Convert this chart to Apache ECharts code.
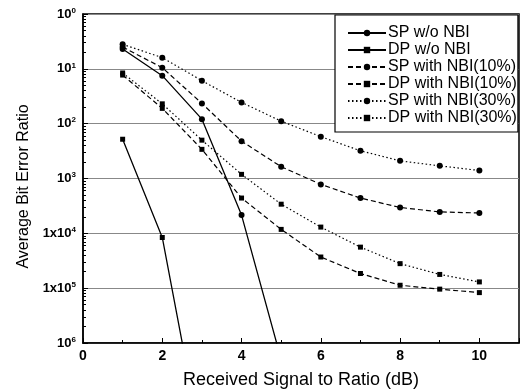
<!DOCTYPE html>
<html><head><meta charset="utf-8">
<script src="https://cdn.jsdelivr.net/npm/echarts@6/dist/echarts.min.js"></script>
<style>html,body{margin:0;padding:0;background:#fff}#c{width:524px;height:390px}</style>
</head><body><div id="c"></div>
<script>
const xs = [1,2,3,4,5,6,7,8,9,10];
const spNoNbi = [0.23, 0.075, 0.0121, 2.15e-4, 5e-7];
const dpNoNbi = [0.0052, 8.4e-5, 1.3e-8];
const sp10 = [0.25, 0.105, 0.0234, 0.0048, 0.00164, 7.8e-4, 4.4e-4, 2.96e-4, 2.46e-4, 2.35e-4];
const dp10 = [0.077, 0.019, 0.0034, 4.4e-4, 1.18e-4, 3.7e-5, 1.85e-5, 1.13e-5, 9.6e-6, 8.3e-6];
const sp30 = [0.28, 0.16, 0.0607, 0.0244, 0.0111, 0.0058, 0.0032, 0.0021, 0.0017, 0.0014];
const dp30 = [0.084, 0.023, 0.005, 1.19e-3, 3.4e-4, 1.3e-4, 5.6e-5, 2.8e-5, 1.78e-5, 1.3e-5];
const names = ['SP w/o NBI','DP w/o NBI','SP with NBI(10%)','DP with NBI(10%)','SP with NBI(30%)','DP with NBI(30%)'];
const yTickLabels = {'0':'10{s|0}','-1':'10{s|1}','-2':'10{s|2}','-3':'10{s|3}','-4':'1x10{s|4}','-5':'1x10{s|5}','-6':'10{s|6}'};

const minorLog = [];
for (let e = -6; e < 0; e++) for (let m = 2; m <= 9; m++) minorLog.push(m * Math.pow(10, e));

const pairs = a => a.map((v,i)=>[xs[i], v]);
const mk = (name, data, sym, type, size) => ({
  name, type:'line', data: pairs(data), symbol: sym, symbolSize: size,
  lineStyle:{color:'#000', width: type==='solid'?1.3:1.2, type},
  itemStyle:{color:'#000'}, clip:true, animation:false
});
const FF = 'Liberation Sans, Arial, sans-serif';
const chart = echarts.init(document.getElementById('c'));
chart.setOption({
  animation:false,
  textStyle:{fontFamily:FF},
  grid:{left:83, right:5, top:14, bottom:47, show:true, borderColor:'#000', borderWidth:1.5,
    containLabel:false, outerBoundsMode:'none'},
  legend:{
    data:names, orient:'vertical', left:335, top:15,
    backgroundColor:'#fff', borderColor:'#000', borderWidth:1.2,
    padding:[10,1,6,12], itemGap:1, itemWidth:38, itemHeight:8,
    textStyle:{fontSize:16, color:'#000', fontFamily:FF, padding:[0,0,0,-3]}
  },
  xAxis:[{type:'value', min:0, max:11, interval:2,
    name:'Received Signal to Ratio (dB)', nameLocation:'middle', nameGap:28,
    nameTextStyle:{fontSize:18, color:'#000', fontFamily:FF},
    axisLine:{show:true, lineStyle:{color:'#000', width:1.5}},
    axisTick:{inside:true, length:5, lineStyle:{color:'#000'}},
    minorTick:{show:true, splitNumber:2, length:3, lineStyle:{color:'#000'}},
    axisLabel:{fontSize:14, color:'#000', fontWeight:'bold', margin:6, showMaxLabel:false,
      formatter:v=> (v%2===0 && v<=10) ? String(v) : ''},
    splitLine:{show:false}}],
  yAxis:[{type:'log', logBase:10, min:1e-6, max:1,
    name:'Average Bit Error Ratio', nameLocation:'middle', nameGap:51, nameRotate:90,
    nameTextStyle:{fontSize:16, color:'#000', fontFamily:FF, padding:[0,16,0,0]},
    axisLine:{show:true, lineStyle:{color:'#000', width:1.5}},
    axisTick:{inside:true, length:5, lineStyle:{color:'#000'}},
    axisLabel:{color:'#000', margin:7,
      formatter:v=> yTickLabels[String(Math.round(Math.log10(v)))] || '',
      rich:{s:{fontSize:8, verticalAlign:'top', padding:[0,0,7,0], color:'#000', fontWeight:'bold'}},
      fontSize:13, fontWeight:'bold'},
    splitLine:{show:true, lineStyle:{color:'#888', width:1}}},
   {type:'log', logBase:10, min:1e-6, max:1, position:'left',
    axisLine:{show:false},
    axisTick:{show:true, inside:true, length:3, customValues:minorLog, lineStyle:{color:'#000'}},
    axisLabel:{show:false}, splitLine:{show:false}}],
  series:[
    mk(names[0], spNoNbi, 'circle', 'solid', 6),
    mk(names[1], dpNoNbi, 'rect', 'solid', 5),
    mk(names[2], sp10, 'circle', [5,3], 6),
    mk(names[3], dp10, 'rect', [5,3], 5),
    mk(names[4], sp30, 'circle', [1.5,2.5], 6),
    mk(names[5], dp30, 'rect', [1.5,2.5], 5)
  ]
});
</script></body></html>
